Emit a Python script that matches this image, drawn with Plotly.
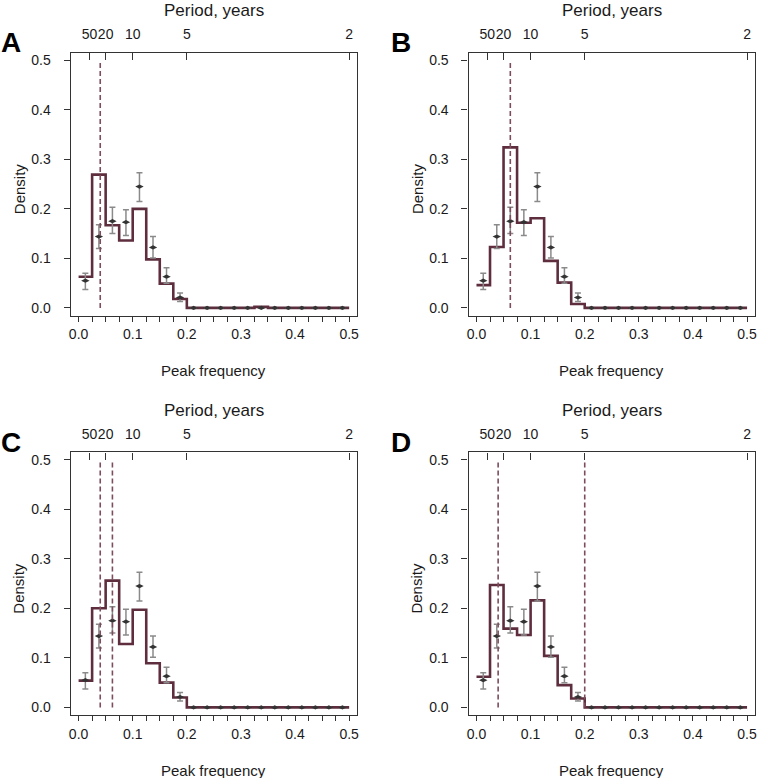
import plotly.graph_objects as go

# ---------------- data ----------------
bin_edges = [i * 0.025 for i in range(21)]          # 0 .. 0.5
bin_centers = [0.0125 + i * 0.025 for i in range(20)]

obs_density = [0.055, 0.144, 0.175, 0.173, 0.245, 0.122, 0.063, 0.021,
               0, 0, 0, 0, 0, 0, 0, 0, 0, 0, 0, 0]
obs_upper = [0.070, 0.168, 0.203, 0.198, 0.273, 0.144, 0.081, 0.030,
             0, 0, 0, 0, 0, 0, 0, 0, 0, 0, 0, 0]
obs_lower = [0.037, 0.120, 0.150, 0.146, 0.215, 0.101, 0.050, 0.013,
             0, 0, 0, 0, 0, 0, 0, 0, 0, 0, 0, 0]

hist_A = [0.063, 0.269, 0.167, 0.136, 0.200, 0.098, 0.049, 0.018,
          0, 0, 0, 0, 0, 0.002, 0, 0, 0, 0, 0, 0]
hist_B = [0.046, 0.123, 0.324, 0.172, 0.181, 0.095, 0.051, 0.008,
          0, 0, 0, 0, 0, 0, 0, 0, 0, 0, 0, 0]
hist_C = [0.054, 0.200, 0.256, 0.128, 0.197, 0.089, 0.050, 0.020,
          0, 0, 0, 0, 0, 0, 0, 0, 0, 0, 0, 0]
hist_D = [0.062, 0.247, 0.159, 0.146, 0.216, 0.104, 0.045, 0.018,
          0, 0, 0, 0, 0, 0, 0, 0, 0, 0, 0, 0]

dashed_A = [0.04]
dashed_B = [0.0625]
dashed_C = [0.04, 0.0625]
dashed_D = [0.04, 0.2]

panel_labels = ["A", "B", "C", "D"]
period_ticks = [0.02, 0.05, 0.1, 0.2, 0.5]
period_text = ["50", "20", "10", "5", "2"]
y_ticks = [0.0, 0.1, 0.2, 0.3, 0.4, 0.5]

hists = [hist_A, hist_B, hist_C, hist_D]
dashes = [dashed_A, dashed_B, dashed_C, dashed_D]

# ---------------- layout helpers ----------------
W, H = 761, 778
LINE = "#5e2e3f"
DASH = "#7d4c5d"
FONT = "Liberation Sans, Arial, Helvetica, sans-serif"
TXT = "#1a1a1a"

# frame boxes in pixels (left, right, top, bottom)
frames = [(69, 357, 52, 315), (469, 757, 52, 315),
          (69, 357, 452, 715), (469, 757, 452, 715)]

fig = go.Figure()
layout = dict(width=W, height=H, margin=dict(l=0, r=0, t=0, b=0),
              paper_bgcolor="white", plot_bgcolor="white", showlegend=False,
              font=dict(family=FONT, size=14, color=TXT))
shapes = []
annotations = []

xr = [-0.0147, 0.5147]
yr = [-0.0155, 0.5147]

minor_vals = bin_edges
minor_text = [("%.1f" % v) if abs(v * 10 - round(v * 10)) < 1e-9 else "" for v in minor_vals]

for k in range(4):
    l, r, t, b = frames[k]
    xid = "x" if k == 0 else "x%d" % (k + 1)
    yid = "y" if k == 0 else "y%d" % (k + 1)
    xtop = "x%d" % (k + 5)
    xdom = [l / W, r / W]
    ydom = [1 - b / H, 1 - t / H]

    layout["xaxis" + ("" if k == 0 else str(k + 1))] = dict(
        domain=xdom, anchor=yid, range=xr, showgrid=False, zeroline=False,
        showline=True, linecolor="#333", linewidth=1.2, mirror=False,
        ticks="outside", ticklen=5, tickwidth=1, tickcolor="#333",
        tickvals=minor_vals, ticktext=minor_text, ticklabelstandoff=1,
        tickangle=0, tickfont=dict(size=14, family=FONT, color=TXT))
    layout["xaxis%d" % (k + 5)] = dict(
        overlaying=xid, side="top", anchor=yid, range=xr, showgrid=False,
        zeroline=False, showline=True, linecolor="#333", linewidth=1.2,
        ticks="inside", ticklen=7, tickwidth=1, tickcolor="#333",
        tickvals=period_ticks, ticktext=period_text, ticklabelstandoff=7,
        tickangle=0, tickfont=dict(size=14, family=FONT, color=TXT))
    layout["yaxis" + ("" if k == 0 else str(k + 1))] = dict(
        domain=ydom, anchor=xid, range=yr, showgrid=False, zeroline=False,
        showline=True, linecolor="#333", linewidth=1.2, mirror=True,
        ticks="outside", ticklen=6, tickwidth=1, tickcolor="#333",
        tickvals=y_ticks, tickformat=".1f", ticklabelstandoff=10,
        tickfont=dict(size=14, family=FONT, color=TXT))

    # dashed vertical lines
    for xv in dashes[k]:
        shapes.append(dict(type="line", xref=xid, yref=yid, x0=xv, x1=xv,
                           y0=0, y1=0.5, line=dict(color=DASH, width=1.6, dash="5px,3px")))

    # histogram step line
    hx = bin_edges
    hy = hists[k] + [hists[k][-1]]
    fig.add_trace(go.Scatter(x=hx, y=hy, mode="lines", line_shape="hv",
                             line=dict(color=LINE, width=2.6),
                             xaxis=xid, yaxis=yid, hoverinfo="skip"))

    # observed points with error bars
    fig.add_trace(go.Scatter(
        x=bin_centers, y=obs_density, mode="markers",
        marker=dict(symbol="diamond-wide", size=6, color="#333333"),
        error_y=dict(type="data", symmetric=False,
                     array=[u - v for u, v in zip(obs_upper, obs_density)],
                     arrayminus=[v - lo for v, lo in zip(obs_density, obs_lower)],
                     color="#8a8a8a", thickness=1.5, width=3),
        xaxis=xid, yaxis=yid, hoverinfo="skip"))

    # invisible trace so the top (period) axis is drawn
    fig.add_trace(go.Scatter(x=[period_ticks[0]], y=[0], mode="markers",
                             marker=dict(opacity=0), xaxis=xtop, yaxis=yid,
                             hoverinfo="skip"))

    cx = (l + r) / 2
    annotations.append(dict(text="Period, years", x=cx / W, y=1 - (t - 42) / H,
                            xref="paper", yref="paper", showarrow=False,
                            xanchor="center", yanchor="middle",
                            font=dict(size=17, family=FONT, color=TXT)))
    annotations.append(dict(text="Peak frequency", x=cx / W, y=1 - (b + 55) / H,
                            xref="paper", yref="paper", showarrow=False,
                            xanchor="center", yanchor="middle",
                            font=dict(size=15, family=FONT, color=TXT)))
    annotations.append(dict(text="Density", x=(l - 52) / W, y=1 - ((t + b) / 2 + 4) / H,
                            xref="paper", yref="paper", showarrow=False, textangle=-90,
                            xanchor="center", yanchor="middle",
                            font=dict(size=15, family=FONT, color=TXT)))
    lx = max(l - 56, 21)
    annotations.append(dict(text="<b>%s</b>" % panel_labels[k], x=lx / W,
                            y=1 - (t - 10) / H, xref="paper", yref="paper",
                            showarrow=False, xanchor="right", yanchor="middle",
                            font=dict(size=28, family=FONT, color="black")))

layout["shapes"] = shapes
layout["annotations"] = annotations
fig.update_layout(**layout)
fig.write_html("out.html", config={"displayModeBar": False},
               post_script="document.body.style.margin='0';document.body.style.overflow='hidden';")
